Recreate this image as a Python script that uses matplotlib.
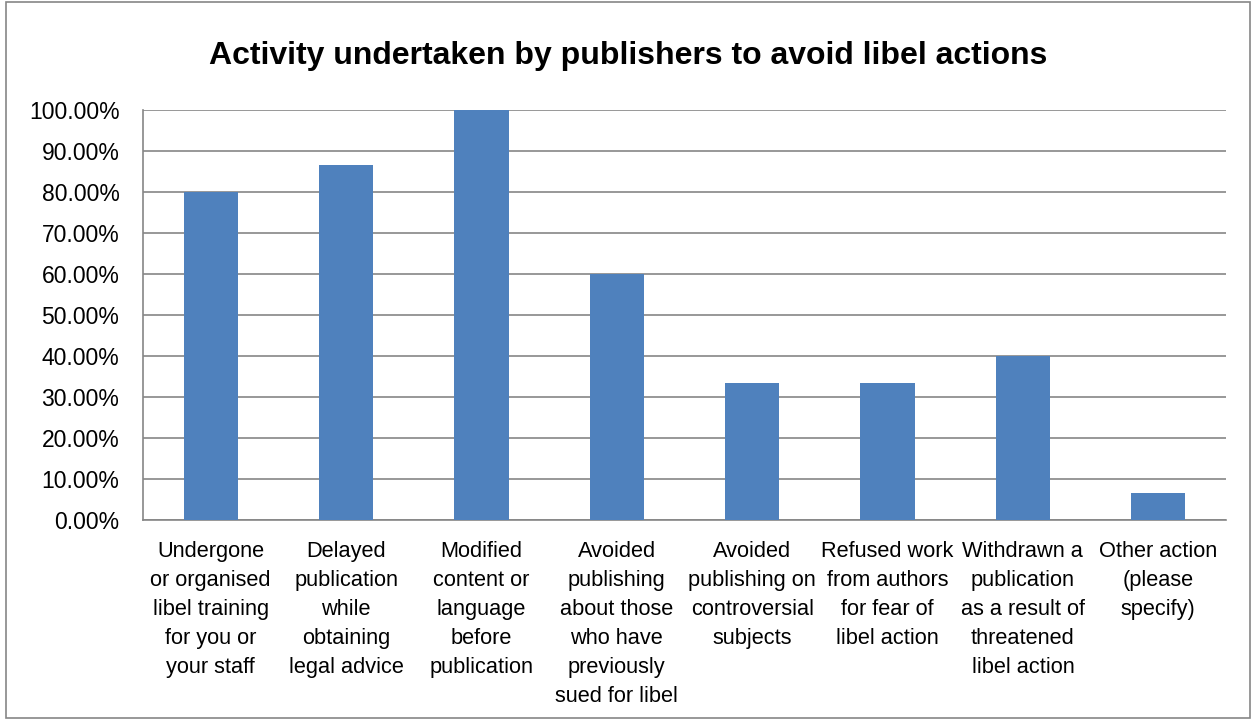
import matplotlib.pyplot as plt
import numpy as np
from matplotlib.ticker import PercentFormatter

categories = [
    "Undergone\nor organised\nlibel training\nfor you or\nyour staff",
    "Delayed\npublication\nwhile\nobtaining\nlegal advice",
    "Modified\ncontent or\nlanguage\nbefore\npublication",
    "Avoided\npublishing\nabout those\nwho have\npreviously\nsued for libel",
    "Avoided\npublishing on\ncontroversial\nsubjects",
    "Refused work\nfrom authors\nfor fear of\nlibel action",
    "Withdrawn a\npublication\nas a result of\nthreatened\nlibel action",
    "Other action\n(please\nspecify)",
]
values = [80.0, 86.67, 100.0, 60.0, 33.33, 33.33, 40.0, 6.67]

plt.rcParams['font.family'] = ['Liberation Sans', 'DejaVu Sans']

fig = plt.figure(figsize=(12.56, 7.2), dpi=100)
ax = fig.add_axes([0.1139, 0.2778, 0.8622, 0.5694])

x = np.arange(len(categories))
ax.bar(x, values, width=0.4, color='#4F81BD', zorder=3)

ax.set_xlim(-0.5, len(categories) - 0.5)
ax.set_ylim(0, 100)
ax.set_yticks(np.arange(0, 101, 10))
ax.yaxis.set_major_formatter(PercentFormatter(decimals=2))
ax.grid(axis='y', color='#868686', linewidth=1.2, zorder=0)
ax.set_xticks(x)
ax.set_xticklabels(categories, linespacing=1.5, va='top')
ax.tick_params(axis='both', length=0)
ax.tick_params(axis='x', pad=15, labelsize=15.7)
ax.tick_params(axis='y', pad=17, labelsize=16.5)
for s in ['top', 'right']:
    ax.spines[s].set_visible(False)
ax.spines['left'].set_color('#868686')
ax.spines['bottom'].set_color('#868686')
ax.spines['left'].set_linewidth(1.2)
ax.spines['bottom'].set_linewidth(1.2)

fig.text(0.5, 0.922, "Activity undertaken by publishers to avoid libel actions",
         ha='center', va='center', fontsize=23, fontweight='bold')

border = plt.Rectangle((0.005, 0.003), 0.99, 0.994, transform=fig.transFigure,
                       fill=False, edgecolor='#868686', linewidth=1.2)
fig.patches.append(border)

fig.savefig("out.png", dpi=100)
